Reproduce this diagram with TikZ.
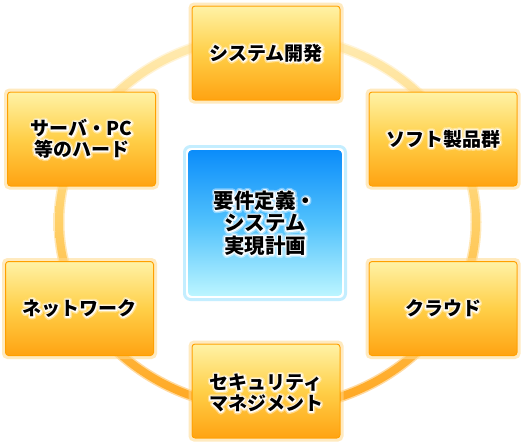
\documentclass[tikz,border=0pt]{standalone}
\usepackage{fontspec}
\setmainfont{Noto Sans CJK JP}
\newfontfamily\glowjp{Noto Sans CJK JP}[UprightFont={* Bold}, FakeBold=16]
\newfontfamily\haloj{Noto Sans CJK JP}[UprightFont={* Bold}, FakeBold=30]
\usetikzlibrary{calc}
\definecolor{ringtop}{HTML}{FFEDB8}
\definecolor{ringmid}{HTML}{FFCF66}
\definecolor{ringbot}{HTML}{FFA21A}
\definecolor{boxtop}{HTML}{FFF2A6}
\definecolor{boxmid}{HTML}{FFCF48}
\definecolor{boxbot}{HTML}{FFA312}
\definecolor{boxedge}{HTML}{FFA000}
\definecolor{boxglow}{HTML}{FFD98C}
\definecolor{bluetop}{HTML}{0A8CFA}
\definecolor{bluemid}{HTML}{52C2FC}
\definecolor{bluebot}{HTML}{BDF6FF}
\definecolor{blueedge}{HTML}{9EE4FF}
\tikzset{
  obox/.style={rectangle, rounded corners=3pt, minimum width=148pt, minimum height=94pt,
    draw=boxedge, line width=1pt, top color=boxtop, bottom color=boxbot, middle color=boxmid,
    inner sep=0pt},
  oglow/.style={rectangle, rounded corners=4pt, minimum width=152pt, minimum height=98pt,
    draw=boxglow, line width=3pt, opacity=0.55},
  bbox/.style={rectangle, rounded corners=5pt, minimum width=156pt, minimum height=148pt,
    draw=white, line width=1.6pt, top color=bluetop, bottom color=bluebot, middle color=bluemid,
    inner sep=0pt},
  bglow/.style={rectangle, rounded corners=6pt, minimum width=161pt, minimum height=153pt,
    draw=blueedge, line width=3pt, opacity=0.6},
  tbase/.style={align=center, inner sep=0pt, line join=round, line cap=round},
  txt/.style={tbase, font=\bfseries\fontsize{19}{21}\selectfont, text=black},
  ctxt/.style={tbase, font=\bfseries\fontsize{20.5}{22.5}\selectfont, text=black},
  htxt/.style={tbase, font=\haloj\fontsize{19}{21}\selectfont, text=white, opacity=0.4},
  hctxt/.style={tbase, font=\haloj\fontsize{20.5}{22.5}\selectfont, text=white, opacity=0.4},
  gtxt/.style={tbase, font=\glowjp\fontsize{19}{21}\selectfont, text=white, opacity=0.9},
  gctxt/.style={tbase, font=\glowjp\fontsize{20.5}{22.5}\selectfont, text=white, opacity=0.9},
}
\newcommand\glowlabel[4]{% #1 prefix (empty or c), #2 at, #3 name, #4 text
  \node[h#1txt] at (#2) {#4};
  \node[g#1txt] at (#2) {#4};
  \node[#1txt] (#3) at (#2) {#4};}
\begin{document}
\begin{tikzpicture}[x=1pt,y=-1pt]
\useasboundingbox (0,0) rectangle (526,445);
\fill[white] (0,0) rectangle (526,445);
% ring
\coordinate (rc) at (267.5,222);
\begin{scope}[even odd rule]
  \clip (rc) ellipse [x radius=214, y radius=192] (rc) ellipse [x radius=203, y radius=181];
  \shade[top color=ringtop, bottom color=ringbot, middle color=ringmid, opacity=0.45] (40,20) rectangle (500,430);
\end{scope}
\begin{scope}[even odd rule]
  \clip (rc) ellipse [x radius=212.5, y radius=190.5] (rc) ellipse [x radius=204.5, y radius=182.5];
  \shade[top color=ringtop, bottom color=ringbot, middle color=ringmid] (40,20) rectangle (500,430);
\end{scope}
% boxes
\coordinate (pT) at (266,53);
\coordinate (pTL) at (81.5,139);
\coordinate (pTR) at (443,139);
\coordinate (pBL) at (79.5,308.5);
\coordinate (pBR) at (443,308.5);
\coordinate (pB) at (266,391);
\coordinate (pC) at (265,223);
\foreach \p in {pT,pTL,pTR,pBL,pBR,pB}{\node[oglow] at (\p) {};}
\node[obox] (bT) at (pT) {};
\node[obox] (bTL) at (pTL) {};
\node[obox] (bTR) at (pTR) {};
\node[obox] (bBL) at (pBL) {};
\node[obox] (bBR) at (pBR) {};
\node[obox] (bB) at (pB) {};
\node[bglow] at (pC) {};
\node[bbox] (bC) at (pC) {};
% texts
\glowlabel{}{bT.center}{tT}{システム開発}
\glowlabel{}{bTL.center}{tTL}{サーバ・PC\\等のハード}
\glowlabel{}{bTR.center}{tTR}{ソフト製品群}
\glowlabel{}{bBL.center}{tBL}{ネットワーク}
\glowlabel{}{bBR.center}{tBR}{クラウド}
\glowlabel{}{$(bB.center)+(0,2)$}{tB}{セキュリティ\\マネジメント}
\glowlabel{c}{bC.center}{tC}{要件定義・\\システム\\実現計画}
\end{tikzpicture}
\end{document}
